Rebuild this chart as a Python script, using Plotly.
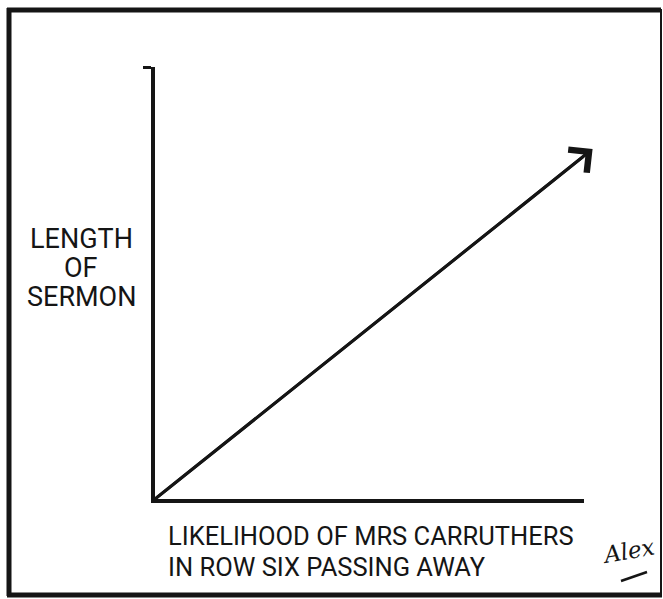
import plotly.graph_objects as go

# --- data ---
likelihood = [0, 10.2]        # x: likelihood of Mrs Carruthers passing away
sermon_length = [0, 8.1]      # y: length of sermon
y_label_lines = ["LENGTH", "OF", "SERMON"]
x_label_lines = ["LIKELIHOOD OF MRS CARRUTHERS", "IN ROW SIX PASSING AWAY"]
signature = "Alex"

W, H = 663, 599
INK = "#151515"
FONT = "Roboto"

fig = go.Figure()
fig.add_trace(go.Scatter(
    x=likelihood, y=sermon_length, mode="lines",
    line=dict(color=INK, width=3), hoverinfo="skip", showlegend=False,
))

# arrow head at the end of the trend line
fig.add_annotation(
    x=likelihood[-1], y=sermon_length[-1], ax=likelihood[0], ay=sermon_length[0],
    xref="x", yref="y", axref="x", ayref="y", text="",
    showarrow=True, arrowhead=4, arrowwidth=3, arrowsize=1.9, arrowcolor=INK,
)

# y-axis label (stacked lines)
for i, t in enumerate(y_label_lines):
    fig.add_annotation(
        x=81 / W, y=1 - (239 + i * 29) / H, xref="paper", yref="paper",
        text=t, showarrow=False, xanchor="center", yanchor="middle",
        font=dict(family=FONT, size=27, color=INK),
    )

# x-axis label
for i, t in enumerate(x_label_lines):
    fig.add_annotation(
        x=166 / W, y=1 - (536 + i * 31) / H, xref="paper", yref="paper",
        text=t, showarrow=False, xanchor="left", yanchor="middle",
        font=dict(family=FONT, size=25.5, color=INK),
    )

# signature
fig.add_annotation(
    x=628 / W, y=1 - 551 / H, xref="paper", yref="paper",
    text="<i>" + signature + "</i>", showarrow=False, textangle=-10,
    xanchor="center", yanchor="middle",
    font=dict(family="DejaVu Serif", size=23, color=INK),
)
fig.add_shape(type="line", xref="paper", yref="paper",
              x0=621 / W, y0=1 - 581 / H, x1=647 / W, y1=1 - 572 / H,
              line=dict(color=INK, width=2.5))

# frame
frame = dict(xref="paper", yref="paper", type="line")
fig.add_shape(**frame, x0=9 / W, y0=1 - 8 / H, x1=9 / W, y1=1 - 596 / H, line=dict(color=INK, width=5))
fig.add_shape(**frame, x0=7 / W, y0=1 - 10 / H, x1=661 / W, y1=1 - 10 / H, line=dict(color=INK, width=5))
fig.add_shape(**frame, x0=661 / W, y0=1 - 9 / H, x1=661 / W, y1=1 - 596 / H, line=dict(color=INK, width=2))
fig.add_shape(**frame, x0=7 / W, y0=1 - 595 / H, x1=662 / W, y1=1 - 595 / H, line=dict(color=INK, width=5))

fig.update_xaxes(
    domain=[155 / W, 584 / W], range=[0, 10], showline=True, linecolor=INK, linewidth=3.5,
    showgrid=False, zeroline=False, showticklabels=False, ticks="",
)
fig.update_yaxes(
    domain=[(H - 499) / H, (H - 67) / H], range=[0, 10], showline=True, linecolor=INK, linewidth=3.5,
    showgrid=False, zeroline=False, showticklabels=False,
    ticks="outside", tickvals=[10], ticklen=8, tickwidth=3, tickcolor=INK,
)
fig.update_layout(
    width=W, height=H, margin=dict(l=0, r=0, t=0, b=0),
    paper_bgcolor="white", plot_bgcolor="white", showlegend=False,
)
fig.write_html(
    "out.html",
    config={"displayModeBar": False},
    post_script="document.body.style.margin='0';document.body.style.overflow='hidden';",
)
